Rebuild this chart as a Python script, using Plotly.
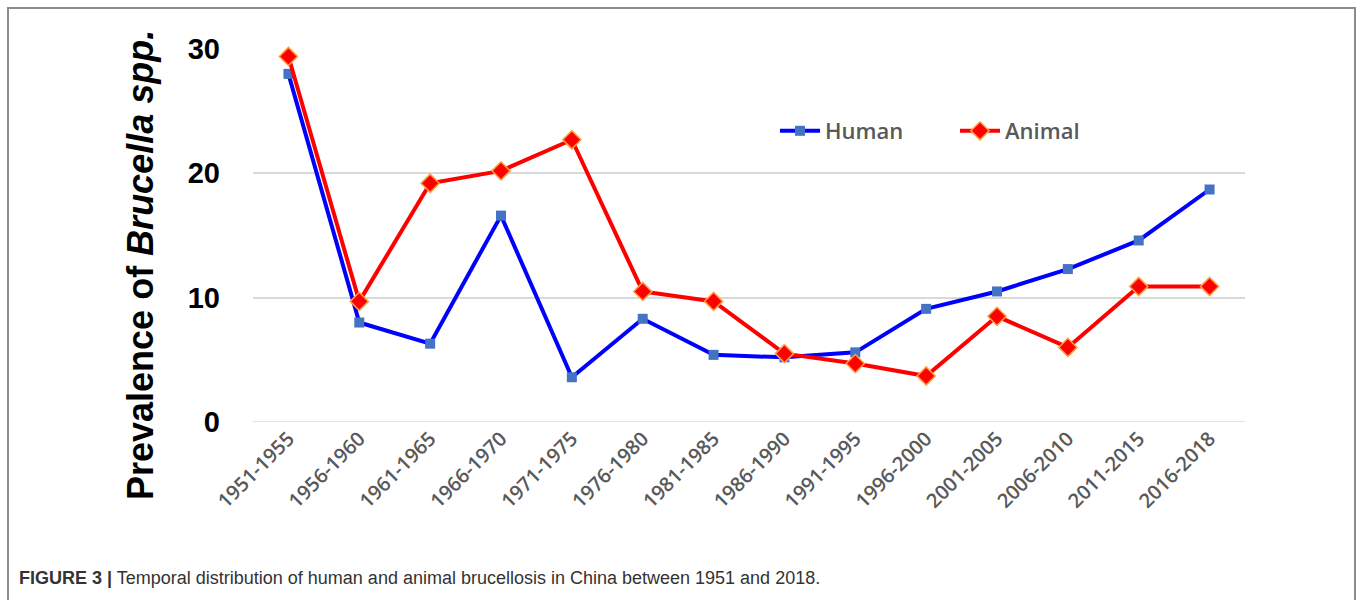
import plotly.graph_objects as go

categories = ["1951-1955", "1956-1960", "1961-1965", "1966-1970", "1971-1975",
              "1976-1980", "1981-1985", "1986-1990", "1991-1995", "1996-2000",
              "2001-2005", "2006-2010", "2011-2015", "2016-2018"]
human = [28.0, 8.0, 6.3, 16.6, 3.6, 8.3, 5.4, 5.2, 5.6, 9.1, 10.5, 12.3, 14.6, 18.7]
animal = [29.4, 9.7, 19.2, 20.2, 22.7, 10.5, 9.7, 5.5, 4.7, 3.7, 8.5, 6.0, 10.9, 10.9]
y_ticks = [0, 10, 20, 30]

fig = go.Figure()
fig.add_trace(go.Scatter(
    x=categories, y=human, name="Human", mode="lines+markers",
    line=dict(color="#0000FF", width=4),
    marker=dict(symbol="square", size=10, color="#4472C4", line=dict(width=0)),
    cliponaxis=False))
fig.add_trace(go.Scatter(
    x=categories, y=animal, name="Animal", mode="lines+markers",
    line=dict(color="#FF0000", width=4),
    marker=dict(symbol="diamond", size=14, color="#FF0000", line=dict(width=1.5, color="#FFA040")),
    cliponaxis=False))

L, R, T, B = 253, 1245, 49, 422
W, H = 1358, 600

def px(x):
    return (x - L) / (R - L)

def py(y):
    return (B - y) / (B - T)

fig.update_layout(
    width=W, height=H,
    margin=dict(l=L, r=W - R, t=T, b=H - B),
    paper_bgcolor="white", plot_bgcolor="white",
    showlegend=True,
    legend=dict(orientation="h", x=px(775), y=py(131), xanchor="left", yanchor="middle",
                font=dict(family="Open Sans", size=22, color="#595959", weight=600),
                itemwidth=40, entrywidth=125, bgcolor="rgba(0,0,0,0)", tracegroupgap=0),
    xaxis=dict(type="category", tickangle=-45, showgrid=False, zeroline=False,
               showline=False, ticks="",
               tickfont=dict(family="Open Sans", size=20, color="#595959", weight=600),
               range=[-0.5, len(categories) - 0.5]),
    yaxis=dict(range=[0, 30], tickvals=y_ticks, showgrid=True, gridcolor="#D9D9D9",
               gridwidth=1.5, zeroline=False, showline=False, ticks="",
               tickfont=dict(family="Liberation Sans", size=29, color="black", weight="bold"),
               ticklabelstandoff=32),
    font=dict(family="Liberation Sans"),
)

# zero gridline (plotly hides the grid line at the axis edge)
fig.add_shape(type="line", xref="paper", yref="y", x0=0, x1=1, y0=y_ticks[0], y1=y_ticks[0],
              line=dict(color="#D9D9D9", width=1.5), layer="below")

fig.add_annotation(
    xref="paper", yref="paper", x=px(140), y=py(265), xanchor="center", yanchor="middle",
    text="<b>Prevalence of <i>Brucella spp.</i></b>", textangle=-90, showarrow=False,
    font=dict(family="Liberation Sans", size=36, color="black"))

fig.add_annotation(
    xref="paper", yref="paper", x=px(17), y=py(578), xanchor="left", yanchor="middle",
    text="<b>FIGURE 3 |</b> Temporal distribution of human and animal brucellosis in China between 1951 and 2018.",
    showarrow=False, font=dict(family="Liberation Sans", size=18, color="#333333"))

fig.add_shape(type="rect", xref="paper", yref="paper",
              x0=px(8), x1=px(1355), y0=py(640), y1=py(8),
              line=dict(color="#8C8C8C", width=2), fillcolor="rgba(0,0,0,0)", layer="below")

fig.write_html("out.html")
